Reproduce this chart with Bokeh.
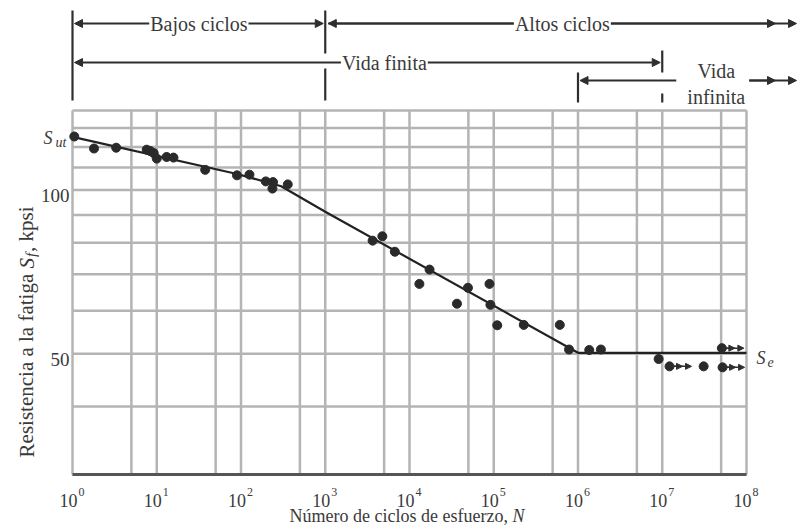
from bokeh.plotting import figure
from bokeh.models import Range1d, Label, Arrow, NormalHead, ColumnDataSource
from bokeh.embed import file_html
from bokeh.resources import INLINE

# ---------------- data ----------------
x_decades = [1, 10, 100, 1e3, 1e4, 1e5, 1e6, 1e7, 1e8]
x_exponents = ["0", "1", "2", "3", "4", "5", "6", "7", "8"]
x_grid = [1, 5, 10, 50, 100, 500, 1e3, 5e3, 1e4, 5e4, 1e5, 5e5, 1e6, 5e6, 1e7, 5e7, 1e8]
y_grid = [30, 40, 50, 60, 70, 80, 90, 100, 110, 120, 130, 140]
y_ticks = [50, 100]
y_tick_labels = ["50", "100"]

S_ut = 125.2
S_e = 50.2

curve_N = [1, 90, 300, 1e3, 1e6, 1e8]
curve_S = [125.2, 107.0, 101.6, 91.2, 50.2, 50.2]

test_N = [1.05, 1.8, 3.3, 7.6, 8.4, 9.2, 10, 13.1, 15.8, 37.6, 89.6, 126, 197, 240, 236, 359,
          3650, 4760, 6700, 13100, 17300, 36600, 49400, 89000, 91300, 110000, 227000, 608000,
          783000, 1.36e6, 1.87e6, 9.06e6, 3.1e7]
test_S = [125.4, 119.2, 119.6, 118.6, 117.9, 116.9, 114.2, 115.0, 114.7, 108.9, 106.4, 106.7,
          103.7, 103.4, 100.6, 102.4, 80.7, 82.2, 77.0, 67.2, 71.4, 61.8, 66.1, 67.2, 61.5, 56.4,
          56.5, 56.5, 50.9, 50.8, 50.9, 48.9, 47.4]
runout_N = [1.22e7, 5.1e7, 5.2e7]
runout_S = [47.4, 51.2, 47.2]

# regime boundaries (cycles)
N_low_high = 1e3
N_inf_start = 1e6
N_fin_end = 1e7

N_min, N_max = x_decades[0], x_decades[-1]
S_min, S_max = y_grid[0], y_grid[-1]

# ---------------- style / layout ----------------
FONT = "Liberation Serif"
TXT = "#3a3a3a"
DARK = "#2e2e2e"
GRID = "#b4b4b4"
W, H = 799, 529
PX = 84.25          # pixels per decade on the N axis
SPX = 544.0         # pixels per decade on the S axis
FRAME_L = 72        # page x of N = N_min
FRAME_T = 110       # page y of S = S_max


def shift(N, px):
    """N moved by px screen pixels along the log axis."""
    return N * 10 ** (px / PX)


def ypos(py):
    """vertical layout position (page pixels) expressed on the S scale."""
    return S_max * 10 ** (-(py - FRAME_T) / SPX)


def lab(fig, x, y, text, size, italic=False, align="left", baseline="alphabetic",
        xo=0, yo=0, angle=0, bg=None):
    kw = {}
    if bg is not None:
        kw = dict(background_fill_color=bg, padding=1)
    fig.add_layout(Label(x=x, y=y, text=text, x_offset=xo, y_offset=yo, angle=angle,
                         text_font=FONT, text_font_size=f"{size}px",
                         text_font_style="italic" if italic else "normal",
                         text_color=TXT, text_align=align, text_baseline=baseline, **kw))


def hd(size=8):
    return NormalHead(size=size, fill_color=DARK, line_color=DARK, line_width=1)


x_lo = 10 ** ((0 - FRAME_L) / PX)
x_hi = 10 ** ((W - FRAME_L) / PX)

p = figure(width=W, height=H, x_axis_type="log", y_axis_type="log",
           x_range=Range1d(x_lo, x_hi), y_range=Range1d(ypos(H), ypos(0)),
           output_backend="svg", toolbar_location=None,
           x_axis_location=None, y_axis_location=None,
           min_border_left=0, min_border_right=0, min_border_top=0, min_border_bottom=0,
           outline_line_color=None)
p.grid.visible = False

# ---------------- regime annotations above the chart ----------------
R1, R2, R3 = ypos(23), ypos(62), ypos(80)
vsrc = ColumnDataSource(dict(
    x=[N_min, N_low_high, N_low_high, N_inf_start, N_fin_end, N_fin_end],
    y0=[ypos(10), ypos(10), ypos(68), ypos(72), ypos(50), ypos(93)],
    y1=[ypos(100), ypos(53), ypos(100), ypos(102), ypos(72), ypos(102)]))
p.segment(x0="x", y0="y0", x1="x", y1="y1", source=vsrc, line_width=2.2, line_color=DARK)

arrows = [
    (shift(N_min, 2), R1, shift(N_low_high, -2), R1, hd(), hd()),
    (shift(N_low_high, 3), R1, shift(x_hi, -3), R1, hd(), hd()),
    (shift(N_low_high, 3), R1, shift(x_hi, -24), R1, None, hd()),
    (shift(N_min, 2), R2, shift(N_fin_end, -2), R2, hd(), hd()),
    (shift(N_inf_start, 2), R3, shift(N_fin_end, 14), R3, hd(), None),
    (shift(N_fin_end, 87), R3, shift(x_hi, -3), R3, None, hd()),
    (shift(N_fin_end, 87), R3, shift(x_hi, -24), R3, None, hd()),
]
for xs, ys, xe, ye, hs, he in arrows:
    p.add_layout(Arrow(x_start=xs, y_start=ys, x_end=xe, y_end=ye, start=hs, end=he,
                       line_width=2, line_color=DARK))

lab(p, (N_min * N_low_high) ** 0.5, R1, "Bajos ciclos", 20, align="center", baseline="middle", bg="white")
lab(p, (N_low_high * x_hi) ** 0.5, R1, "Altos ciclos", 20, align="center", baseline="middle", bg="white")
lab(p, (N_min * N_fin_end) ** 0.5, R2, "Vida finita", 20, align="center", baseline="middle", xo=17, bg="white")
lab(p, shift(N_fin_end, 54), ypos(70), "Vida", 20, align="center", baseline="middle")
lab(p, shift(N_fin_end, 54), ypos(96), "infinita", 20, align="center", baseline="middle")

# ---------------- grid and axis ----------------
gx = ColumnDataSource(dict(x=x_grid, y0=[S_min] * len(x_grid), y1=[S_max] * len(x_grid)))
gy = ColumnDataSource(dict(y=y_grid, x0=[N_min] * len(y_grid), x1=[N_max] * len(y_grid)))
p.segment(x0="x", y0="y0", x1="x", y1="y1", source=gx, line_width=2.5, line_color=GRID)
p.segment(x0="x0", y0="y", x1="x1", y1="y", source=gy, line_width=2.5, line_color=GRID)
p.segment(x0=[N_min], y0=[S_min], x1=[N_max], y1=[S_min], line_width=3, line_color="#555555")

# x tick labels 10^n
for d, e in zip(x_decades, x_exponents):
    lab(p, d, S_min, "10", 18, align="right", xo=5, yo=-26)
    lab(p, d, S_min, e, 12, align="left", xo=6, yo=-18)

# y tick labels
for t, s in zip(y_ticks, y_tick_labels):
    lab(p, N_min, t, s, 19, align="right", xo=-3, yo=-6)

# ---------------- data ----------------
p.line(curve_N, curve_S, line_width=2.2, line_color="#222222")
p.scatter(test_N, test_S, marker="circle", size=9, fill_color="#2a2a2a", line_color="#2a2a2a")
p.scatter(runout_N, runout_S, marker="circle", size=9, fill_color="#2a2a2a", line_color="#2a2a2a")
for n, s in zip(runout_N, runout_S):
    p.add_layout(Arrow(x_start=n, y_start=s, x_end=shift(n, 22), y_end=s, end=hd(6),
                       line_width=1.5, line_color=DARK))
    p.add_layout(Arrow(x_start=n, y_start=s, x_end=shift(n, 13), y_end=s, end=hd(6),
                       line_width=1.5, line_color=DARK))

# S_ut and S_e labels
lab(p, N_min, S_ut, "S", 18, italic=True, align="right", baseline="middle", xo=-20, yo=-1)
lab(p, N_min, S_ut, "ut", 14, italic=True, align="right", baseline="middle", xo=-6, yo=-6)
lab(p, N_max, S_e, "S", 18, italic=True, align="left", baseline="middle", xo=10, yo=-5)
lab(p, N_max, S_e, "e", 14, italic=True, align="left", baseline="middle", xo=21, yo=-9)

# y axis title (composed so that the subscript can be shown)
YF = 21
lab(p, N_min, S_min, "Resistencia a la fatiga", YF, angle=1.5708, xo=-46, yo=17)
lab(p, N_min, S_min, "S", YF, italic=True, angle=1.5708, xo=-46, yo=17 + 8.998 * YF)
lab(p, N_min, S_min, "f", 15, italic=True, angle=1.5708, xo=-42, yo=17 + 9.5 * YF + 1)
lab(p, N_min, S_min, ", kpsi", YF, angle=1.5708, xo=-46, yo=17 + 9.5 * YF + 6)

# x axis title
XF = 18
mid = (N_min * N_max) ** 0.5
lab(p, mid, S_min, "Número de ciclos de esfuerzo,", XF, xo=-120, yo=-42)
lab(p, mid, S_min, "N", XF, italic=True, xo=-120 + 12.385 * XF, yo=-42)

open("out.html", "w").write(file_html(p, INLINE))
